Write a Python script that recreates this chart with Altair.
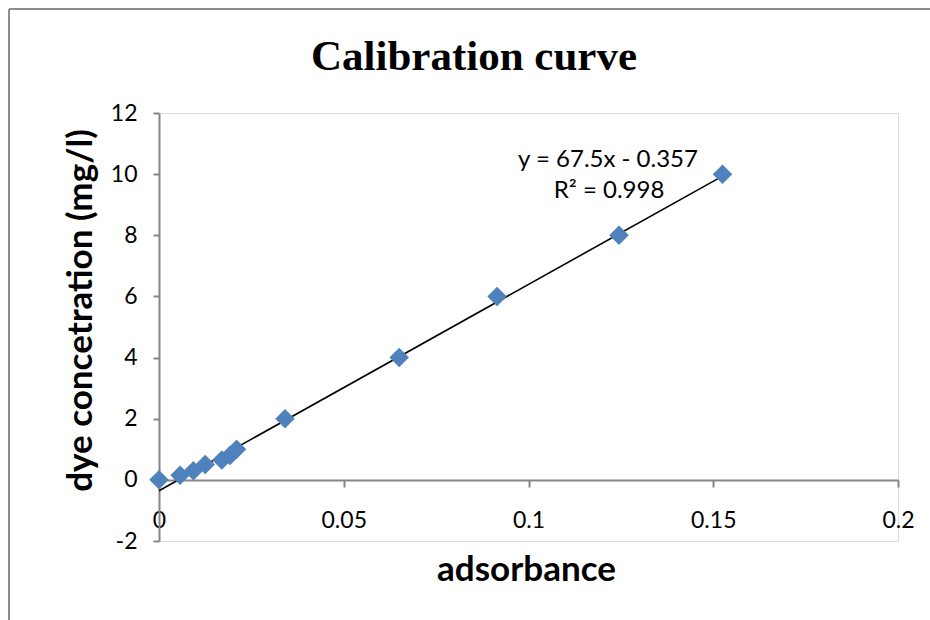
import altair as alt
import pandas as pd

# Calibration measurements: absorbance vs. dye concentration (mg/l)
absorbance = [0.0, 0.0057, 0.0093, 0.0125, 0.017, 0.0192, 0.021, 0.0341, 0.065, 0.0915, 0.1245, 0.1525]
concentration = [0.0, 0.15, 0.3, 0.5, 0.65, 0.8, 1.0, 2.0, 4.0, 6.0, 8.0, 10.0]

# Linear trendline as reported on the chart
slope = 67.5
intercept = -0.357
r_squared = 0.998
trend_x = [0.0, 0.1525]

x_ticks = [0, 0.05, 0.1, 0.15, 0.2]
y_ticks = [-2, 0, 2, 4, 6, 8, 10, 12]

points = pd.DataFrame({"absorbance": absorbance, "concentration": concentration})
trend = pd.DataFrame({"absorbance": trend_x,
                      "concentration": [slope * v + intercept for v in trend_x]})

W, H = 739, 428
LEFT, TOP = 159, 113
AXIS_GRAY = "#868686"
LABEL_FONT = "Lato"
HYPHEN_LABEL = "datum.value < 0 ? '-' + abs(datum.value) : '' + datum.value"

x_scale = alt.Scale(domain=[0, 0.2], nice=False, zero=False)
y_scale = alt.Scale(domain=[-2, 12], nice=False, zero=False)

x_enc = alt.X(
    "absorbance:Q",
    scale=x_scale,
    axis=alt.Axis(
        title="adsorbance",
        values=x_ticks,
        labelExpr=HYPHEN_LABEL,
        labelFlush=False,
        offset=-61,
        grid=False,
        domainColor=AXIS_GRAY,
        domainWidth=2,
        tickColor=AXIS_GRAY,
        tickWidth=2,
        tickSize=7,
        labelPadding=22,
        labelFont=LABEL_FONT,
        labelFontSize=23,
        labelColor="#000000",
        titleFont=LABEL_FONT,
        titleFontSize=35,
        titleFontWeight="bold",
        titleColor="#000000",
        titleX=367,
        titleY=89,
        titleBaseline="middle",
        titleAnchor="middle",
    ),
)
y_enc = alt.Y(
    "concentration:Q",
    scale=y_scale,
    axis=alt.Axis(
        title="dye concetration (mg/l)",
        values=y_ticks,
        labelExpr=HYPHEN_LABEL,
        labelFlush=False,
        grid=False,
        domainColor=AXIS_GRAY,
        domainWidth=2,
        tickColor=AXIS_GRAY,
        tickWidth=2,
        tickSize=6,
        labelPadding=16,
        labelFont=LABEL_FONT,
        labelFontSize=23,
        labelColor="#000000",
        titleFont=LABEL_FONT,
        titleFontSize=35,
        titleFontWeight="bold",
        titleColor="#000000",
        titleX=-79,
        titleY=197,
        titleAngle=270,
        titleBaseline="middle",
        titleAnchor="middle",
    ),
)

line = alt.Chart(trend).mark_line(color="#000000", strokeWidth=1.6).encode(x=x_enc, y=y_enc)

dots = alt.Chart(points).mark_point(
    shape="diamond", filled=True, size=380, color="#4F81BD", opacity=1
).encode(x="absorbance:Q", y="concentration:Q")

text_style = dict(font=LABEL_FONT, fontSize=24, color="#000000", align="center", baseline="middle")

eq_text = alt.Chart(pd.DataFrame({"t": [f"y = {slope}x - {abs(intercept)}"]})).mark_text(
    **text_style
).encode(text="t:N", x=alt.value(449), y=alt.value(47))

r2_text = alt.Chart(pd.DataFrame({"t": [f"R² = {r_squared}"]})).mark_text(
    **text_style
).encode(text="t:N", x=alt.value(450), y=alt.value(78))

title_text = alt.Chart(pd.DataFrame({"t": ["Calibration curve"]})).mark_text(
    font="Liberation Serif", fontSize=43, fontWeight="bold", color="#000000",
    align="center", baseline="alphabetic"
).encode(text="t:N", x=alt.value(474 - LEFT), y=alt.value(70 - TOP))

# Chart-area frame (left and top edges)
frame_left = alt.Chart(pd.DataFrame({"k": [0]})).mark_rule(color="#8c8c8c", strokeWidth=2).encode(
    x=alt.value(9 - LEFT), y=alt.value(9 - TOP), y2=alt.value(640 - TOP)
)
frame_top = alt.Chart(pd.DataFrame({"k": [0]})).mark_rule(color="#8c8c8c", strokeWidth=2).encode(
    x=alt.value(9 - LEFT), x2=alt.value(960 - LEFT), y=alt.value(9 - TOP)
)

chart = alt.layer(line, dots, eq_text, r2_text, title_text, frame_left, frame_top).properties(
    width=W,
    height=H,
    padding={"left": LEFT, "top": TOP, "right": 930 - LEFT - W, "bottom": 620 - TOP - H},
    autosize=alt.AutoSizeParams(type="none"),
).configure_view(strokeWidth=0).configure(background="white")

chart.save("out.html", embed_options={"renderer": "svg", "actions": False})
